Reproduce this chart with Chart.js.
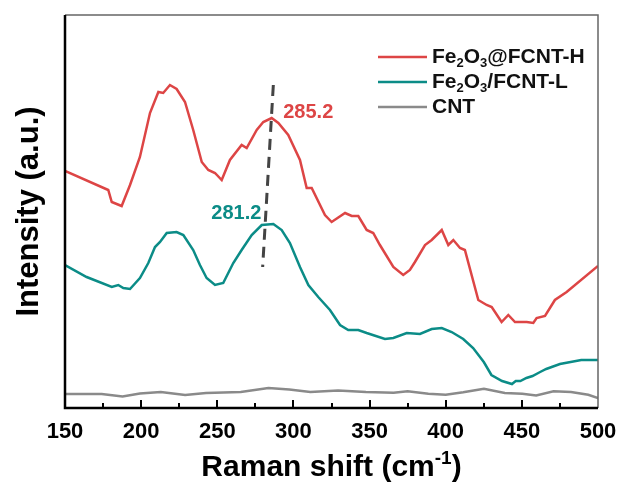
<!DOCTYPE html>
<html>
<head>
<meta charset="utf-8">
<script src="https://cdn.jsdelivr.net/npm/chart.js@4"></script>
<style>
  html, body { margin: 0; padding: 0; background: #fff; }
  canvas { display: block; }
</style>
</head>
<body>
<canvas id="raman-chart" width="618" height="484"></canvas>
<script>
// Raman shift values (cm-1) and intensity (a.u.)
const xRed = [150, 178.4, 180.7, 187.2, 192.7, 199.2, 205.8, 211.3, 214.5, 218.9, 223.3, 228.8, 234.2, 239.8, 244.1, 248.5, 252.9, 258.3, 266.0, 269.3, 275.9, 280.2, 285.7, 290.1, 296.6, 304.3, 308.7, 312.0, 320.7, 325.1, 333.9, 338.3, 342.6, 348.1, 352.4, 356.8, 365.6, 372.1, 376.5, 379.8, 386.4, 390.8, 397.4, 401.7, 405.0, 409.4, 412.6, 421.4, 426.9, 430.2, 436.7, 441.1, 445.5, 453.2, 457.5, 459.7, 465.2, 471.7, 479.4, 500];
const yRed = [237, 218, 206, 202, 223, 251, 295, 316, 315, 323, 319, 306, 278, 246, 238, 235, 228, 248, 263, 260, 278, 286, 290, 285, 273, 248, 220, 220, 193, 186, 195, 192, 192, 178, 175, 163, 141, 133, 138, 146, 163, 168, 178, 163, 168, 160, 158, 108, 103, 101, 86, 93, 86, 86, 85, 90, 92, 108, 116, 142];

const xTeal = [150, 164.2, 180.7, 185.0, 188.3, 192.7, 199.2, 204.7, 209.1, 212.4, 216.8, 223.3, 227.7, 234.2, 238.6, 243.0, 248.5, 253.9, 260.5, 266.0, 272.6, 279.2, 286.8, 292.3, 297.7, 304.3, 309.8, 316.3, 324.0, 330.6, 336.0, 342.6, 348.1, 360.1, 365.6, 374.4, 383.1, 390.8, 397.4, 403.9, 411.5, 418, 425, 430, 437, 443.5, 446, 449, 453, 457, 462, 466, 475, 489, 500];
const yTeal = [143, 131, 121, 123, 120, 119, 130, 145, 161, 166, 175, 176, 173, 158, 143, 130, 123, 125, 145, 158, 173, 183, 184, 178, 165, 141, 123, 111, 98, 83, 78, 78, 75, 69, 70, 75, 74, 79, 80, 76, 69, 60, 46, 33, 27, 24, 27, 27, 30, 32, 36, 39, 44, 48, 48];

const xCnt = [150, 174.1, 187.8, 199.2, 212.9, 228.9, 242.6, 265.4, 283.6, 297.3, 311.1, 329.3, 347.6, 365.8, 375, 388.6, 400, 411.5, 425.1, 438.8, 450.3, 459.4, 470.8, 482.3, 493.6, 500];
const yCnt = [14, 14, 11.5, 14.6, 16, 13, 15, 16, 20, 18.5, 16, 17.4, 16, 15.3, 16.7, 14.3, 13.2, 15.7, 19.2, 15, 14.3, 12.5, 16.7, 16, 13.2, 10];

// dashed guide between the two peak positions
const xGuide = [286.8, 279.8];
const yGuide = [323, 141];

const xTickLabels = [150, 200, 250, 300, 350, 400, 450, 500];

const seriesNames = [
  [["Fe", 0], ["2", 1], ["O", 0], ["3", 1], ["@FCNT-H", 0]],
  [["Fe", 0], ["2", 1], ["O", 0], ["3", 1], ["/FCNT-L", 0]],
  [["CNT", 0]],
];
const peakLabels = [
  { text: "285.2", x: 293.3, y: 296 },
  { text: "281.2", x: 262.5, y: 195 },
];

const RED = "#dd4545";
const TEAL = "#0b8c87";
const GRAY = "#8a8a8a";
const FONT = "'Liberation Sans', Arial, sans-serif";

function pts(xs, ys) {
  return xs.map((x, i) => ({ x: x, y: ys[i] }));
}

// draws text with subscript / superscript pieces, returns width
function richText(ctx, parts, x, y, size, shift, draw) {
  let cx = x;
  parts.forEach(([t, small]) => {
    const s = small ? Math.round(size * 0.62) : size;
    ctx.font = "bold " + s + "px " + FONT;
    if (draw) ctx.fillText(t, cx, y + (small ? shift : 0));
    cx += ctx.measureText(t).width;
  });
  return cx - x;
}

const decorPlugin = {
  id: "decor",
  afterDraw(chart) {
    const ctx = chart.ctx;
    const a = chart.chartArea;
    const xs = chart.scales.x;
    const ys = chart.scales.y;
    ctx.save();

    // frame: thin grey top/right, heavy black left/bottom
    ctx.strokeStyle = "#666";
    ctx.lineWidth = 1.5;
    ctx.beginPath();
    ctx.moveTo(a.left, a.top);
    ctx.lineTo(a.right, a.top);
    ctx.lineTo(a.right, a.bottom);
    ctx.stroke();
    ctx.strokeStyle = "#000";
    ctx.lineWidth = 2.5;
    ctx.beginPath();
    ctx.moveTo(a.left, a.top);
    ctx.lineTo(a.left, a.bottom);
    ctx.lineTo(a.right, a.bottom);
    ctx.stroke();

    // inward ticks on the bottom axis
    ctx.lineWidth = 2;
    for (let v = 175; v < 500; v += 25) {
      const px = Math.round(xs.getPixelForValue(v));
      const len = v % 50 === 0 ? 8 : 5;
      ctx.beginPath();
      ctx.moveTo(px, a.bottom);
      ctx.lineTo(px, a.bottom - len);
      ctx.stroke();
    }

    // legend
    const colors = [RED, TEAL, GRAY];
    const rows = [57, 82, 107];
    ctx.textBaseline = "middle";
    ctx.fillStyle = "#111";
    seriesNames.forEach((parts, i) => {
      ctx.strokeStyle = colors[i];
      ctx.lineWidth = 2.5;
      ctx.beginPath();
      ctx.moveTo(378, rows[i]);
      ctx.lineTo(427, rows[i]);
      ctx.stroke();
      richText(ctx, parts, 432, rows[i], 21, 6, true);
    });

    // peak annotations
    ctx.font = "bold 20px " + FONT;
    ctx.textAlign = "left";
    ctx.fillStyle = RED;
    ctx.fillText(peakLabels[0].text, xs.getPixelForValue(peakLabels[0].x), ys.getPixelForValue(peakLabels[0].y));
    ctx.textAlign = "center";
    ctx.fillStyle = TEAL;
    ctx.fillText(peakLabels[1].text, xs.getPixelForValue(peakLabels[1].x), ys.getPixelForValue(peakLabels[1].y));

    // axis titles
    ctx.fillStyle = "#000";
    ctx.textBaseline = "alphabetic";
    ctx.textAlign = "left";
    const xTitle = [["Raman shift (cm", 0], ["-1", 1], [")", 0]];
    const w = richText(ctx, xTitle, 0, 0, 30, -12, false);
    richText(ctx, xTitle, (a.left + a.right) / 2 - w / 2, 476, 30, -12, true);

    ctx.translate(38, (a.top + a.bottom) / 2);
    ctx.rotate(-Math.PI / 2);
    ctx.textAlign = "center";
    ctx.font = "bold 31px " + FONT;
    ctx.fillText("Intensity (a.u.)", 0, 0);
    ctx.restore();
  },
};

new Chart(document.getElementById("raman-chart"), {
  type: "line",
  data: {
    datasets: [
      { data: pts(xRed, yRed), borderColor: RED, borderWidth: 2.5 },
      { data: pts(xTeal, yTeal), borderColor: TEAL, borderWidth: 2.5 },
      { data: pts(xCnt, yCnt), borderColor: GRAY, borderWidth: 2.5 },
      { data: pts(xGuide, yGuide), borderColor: "#444", borderWidth: 3, borderDash: [11, 7] },
    ],
  },
  options: {
    responsive: false,
    animation: false,
    devicePixelRatio: 1,
    layout: { padding: { left: 65, top: 15, right: 20, bottom: 0 } },
    elements: { point: { radius: 0 }, line: { tension: 0, fill: false } },
    plugins: { legend: { display: false }, tooltip: { enabled: false } },
    scales: {
      x: {
        type: "linear",
        min: 150,
        max: 500,
        afterBuildTicks: (s) => {
          s.ticks = xTickLabels.map((v) => ({ value: v }));
        },
        afterFit: (s) => {
          s.height = 76;
          s.paddingLeft = 0;
          s.paddingRight = 0;
        },
        grid: { display: false, drawTicks: false },
        border: { display: false },
        ticks: {
          color: "#000",
          padding: 11,
          maxRotation: 0,
          font: { family: FONT, size: 22, weight: "bold" },
        },
      },
      y: { display: false, min: 0, max: 393 },
    },
  },
  plugins: [decorPlugin],
});
</script>
</body>
</html>
